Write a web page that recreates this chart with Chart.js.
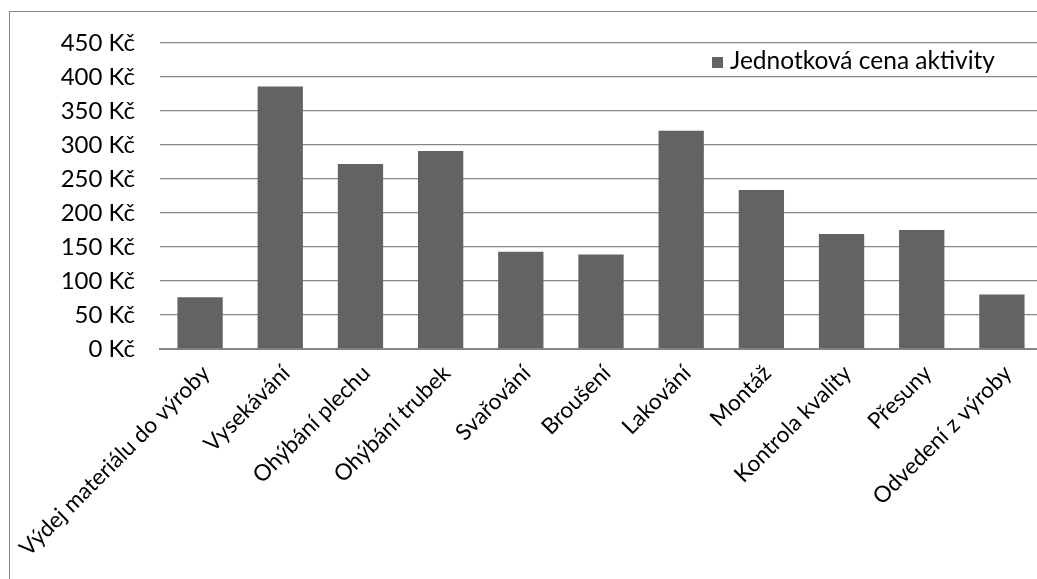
<!DOCTYPE html>
<html>
<head>
<meta charset="utf-8">
<script src="https://cdn.jsdelivr.net/npm/chart.js@4"></script>
<style>
  html, body { margin: 0; padding: 0; overflow: hidden; background: #fff; }
  #ramecek { position: absolute; left: 9px; top: 11px; width: 1100px; height: 700px; border: 1px solid #878787; }
  #myChart { display: block; }
</style>
</head>
<body>
<div id="ramecek">
  <canvas id="myChart" width="1060" height="567"></canvas>
</div>
<script>
// data grafu
const kategorie = ['Výdej materiálu do výroby', 'Vysekávání', 'Ohýbání plechu', 'Ohýbání trubek', 'Svařování',
  'Broušení', 'Lakování', 'Montáž', 'Kontrola kvality', 'Přesuny', 'Odvedení z výroby'];
const ceny = [76, 386, 272, 291, 143, 139, 321, 234, 169, 175, 80];
const popisSerie = 'Jednotková cena aktivity';
const osaY = [0, 50, 100, 150, 200, 250, 300, 350, 400, 450];

const barvaSloupcu = '#636363';
const barvaMrizky = '#868686';
const pismo = { family: "Lato, 'Open Sans', sans-serif", size: 24 };

// legenda uvnitr grafu vpravo nahore (jako v Excelu)
const legendaPlugin = {
  id: 'legendaVGrafu',
  afterDraw(chart) {
    const c = chart.ctx;
    c.save();
    c.fillStyle = barvaSloupcu;
    c.fillRect(702, 45, 11, 11);
    c.fillStyle = '#000';
    c.font = '24.5px ' + pismo.family;
    c.textBaseline = 'alphabetic';
    c.textAlign = 'left';
    c.fillText(chart.data.datasets[0].label, 720, 57);
    c.restore();
  }
};

function chart1(){
  const ctx = document.getElementById('myChart');
  new Chart(ctx, {
    type: 'bar',
    data: {
      labels: kategorie,
      datasets: [{
        label: popisSerie,
        data: ceny,
        backgroundColor: barvaSloupcu,
        borderWidth: 0,
        categoryPercentage: 1,
        barPercentage: 0.565
      }]
    },
    options: {
      responsive: false,
      animation: false,
      layout: { padding: { top: 31, right: 28, left: 0, bottom: 0 } },
      plugins: {
        legend: { display: false },
        tooltip: { enabled: false }
      },
      scales: {
        x: {
          grid: { display: false, drawTicks: false },
          border: { display: true, color: barvaMrizky, width: 2 },
          ticks: {
            color: '#000',
            font: { family: pismo.family, size: 22.5 },
            minRotation: 45,
            maxRotation: 45,
            autoSkip: false,
            labelOffset: 6,
            padding: 11
          },
          afterFit: (scale) => {
            scale.height = 230;
            scale.paddingLeft = 0;
            scale.paddingRight = 0;
          }
        },
        y: {
          min: osaY[0],
          max: osaY[osaY.length - 1],
          afterBuildTicks: (scale) => { scale.ticks = osaY.map(v => ({ value: v })); },
          grid: { color: barvaMrizky, lineWidth: 1.3, drawTicks: false },
          border: { display: false },
          ticks: {
            color: '#000',
            font: pismo,
            padding: 25,
            callback: (v) => v + ' Kč'
          },
          afterFit: (scale) => {
            scale.width = 150;
            scale.paddingTop = 0;
            scale.paddingBottom = 0;
          }
        }
      }
    },
    plugins: [legendaPlugin]
  });
}

chart1();
</script>
</body>
</html>
